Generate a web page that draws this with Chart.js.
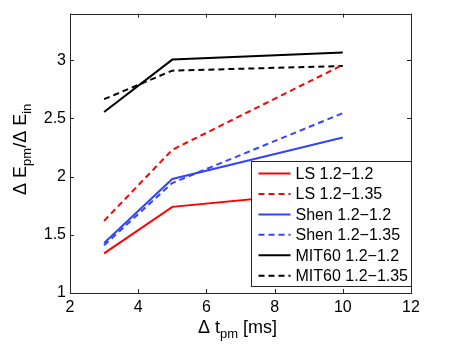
<!DOCTYPE html>
<html>
<head>
<meta charset="utf-8">
<script src="https://cdn.jsdelivr.net/npm/chart.js@4.4.1/dist/chart.umd.min.js"></script>
<style>
  html, body { margin: 0; padding: 0; background: #fff; }
  canvas { display: block; }
</style>
</head>
<body>
<canvas id="c" width="463" height="348"></canvas>
<script>
// ---- data ----
const dtPm = [3, 5, 10];
const ls12 = [1.34, 1.74, 1.88];
const ls135 = [1.62, 2.23, 2.96];
const shen12 = [1.43, 1.98, 2.335];
const shen135 = [1.41, 1.945, 2.545];
const mit12 = [2.555, 3.005, 3.065];
const mit135 = [2.665, 2.91, 2.95];

const seriesNames = ['LS 1.2\u22121.2', 'LS 1.2\u22121.35', 'Shen 1.2\u22121.2', 'Shen 1.2\u22121.35', 'MIT60 1.2\u22121.2', 'MIT60 1.2\u22121.35'];
const xTicks = [2, 4, 6, 8, 10, 12];
const xTickLabels = ['2', '4', '6', '8', '10', '12'];
const yTicks = [1, 1.5, 2, 2.5, 3];
const yTickLabels = ['1', '1.5', '2', '2.5', '3'];

const RED = '#ff0000', BLUE = '#3344ff', BLACK = '#000000';
const FONT = '"Liberation Sans", Arial, Helvetica, sans-serif';

function pts(ys) { return dtPm.map((x, i) => ({ x: x, y: ys[i] })); }
function ds(label, ys, color, dashed) {
  return {
    label: label, data: pts(ys), borderColor: color, backgroundColor: color,
    borderWidth: 2, borderDash: dashed ? [6, 4] : [], pointRadius: 0,
    fill: false, tension: 0
  };
}

const datasets = [
  ds(seriesNames[0], ls12, RED, false),
  ds(seriesNames[1], ls135, RED, true),
  ds(seriesNames[2], shen12, BLUE, false),
  ds(seriesNames[3], shen135, BLUE, true),
  ds(seriesNames[4], mit12, BLACK, false),
  ds(seriesNames[5], mit135, BLACK, true)
];

function drawRich(ctx, parts, x, y, mainSize, subSize, subShift) {
  // parts: [{t, sub}] ; draws left-aligned starting at x on baseline y, returns width
  let w = 0;
  parts.forEach(p => { ctx.font = (p.sub ? subSize : mainSize) + 'px ' + FONT; w += ctx.measureText(p.t).width; });
  let cx = x - w / 2;
  parts.forEach(p => {
    ctx.font = (p.sub ? subSize : mainSize) + 'px ' + FONT;
    ctx.fillText(p.t, cx, y + (p.sub ? subShift : 0));
    cx += ctx.measureText(p.t).width;
  });
}

const framePlugin = {
  id: 'frame',
  afterDatasetsDraw(chart) {
    const ctx = chart.ctx, a = chart.chartArea;
    const xs = chart.scales.x, ys = chart.scales.y;
    ctx.save();
    ctx.strokeStyle = '#262626';
    ctx.lineWidth = 1;
    ctx.setLineDash([]);
    ctx.strokeRect(Math.round(a.left) + 0.5, Math.round(a.top) + 0.5, Math.round(a.right - a.left), Math.round(a.bottom - a.top));
    const tl = 4;
    ctx.beginPath();
    xTicks.forEach(v => {
      const px = Math.round(xs.getPixelForValue(v)) + 0.5;
      ctx.moveTo(px, a.bottom); ctx.lineTo(px, a.bottom - tl);
      ctx.moveTo(px, a.top); ctx.lineTo(px, a.top + tl);
    });
    yTicks.forEach(v => {
      const py = Math.round(ys.getPixelForValue(v)) + 0.5;
      ctx.moveTo(a.left, py); ctx.lineTo(a.left + tl, py);
      ctx.moveTo(a.right, py); ctx.lineTo(a.right - tl, py);
    });
    ctx.stroke();

    // legend box (inside axes, lower right)
    const bw = 160, bh = 125;
    const bx = Math.round(a.right - bw) + 0.5, by = Math.round(a.bottom - 7 - bh) + 0.5;
    ctx.fillStyle = '#ffffff';
    ctx.fillRect(bx, by, bw, bh);
    ctx.strokeStyle = '#262626';
    ctx.strokeRect(bx, by, bw, bh);
    ctx.textBaseline = 'middle';
    ctx.textAlign = 'left';
    ctx.font = '16px ' + FONT;
    chart.data.datasets.forEach((d, i) => {
      const ry = by + 12 + i * 20.45;
      ctx.strokeStyle = d.borderColor;
      ctx.lineWidth = 2;
      ctx.setLineDash(d.borderDash);
      ctx.beginPath();
      ctx.moveTo(bx + 7, ry); ctx.lineTo(bx + 39, ry);
      ctx.stroke();
      ctx.setLineDash([]);
      ctx.fillStyle = '#000';
      ctx.fillText(d.label, bx + 44, ry + 1);
    });
    ctx.restore();
  },
  afterDraw(chart) {
    const ctx = chart.ctx, a = chart.chartArea;
    ctx.save();
    ctx.fillStyle = '#000';
    ctx.textBaseline = 'alphabetic';
    ctx.textAlign = 'left';
    // x title
    drawRich(ctx, [{ t: '\u0394 t' }, { t: 'pm', sub: true }, { t: ' [ms]' }], (a.left + a.right) / 2 - 3, 333, 18, 13, 5);
    // y title
    ctx.translate(26, (a.top + a.bottom) / 2 - 4);
    ctx.rotate(-Math.PI / 2);
    drawRich(ctx, [{ t: '\u0394 E' }, { t: 'pm', sub: true }, { t: '/\u0394 E' }, { t: 'in', sub: true }], 0, 0, 18, 13, 5);
    ctx.restore();
  }
};

new Chart(document.getElementById('c'), {
  type: 'line',
  data: { datasets: datasets },
  options: {
    responsive: false,
    animation: false,
    devicePixelRatio: 1,
    layout: { padding: { left: 0, right: 52, top: 10, bottom: 0 } },
    plugins: { legend: { display: false }, tooltip: { enabled: false } },
    scales: {
      x: {
        type: 'linear', min: 2, max: 12,
        afterBuildTicks: s => { s.ticks = xTicks.map(v => ({ value: v })); },
        afterFit: s => { s.height = 55; },
        grid: { display: false, drawTicks: false },
        border: { display: false },
        ticks: {
          padding: 5, color: '#000', font: { family: FONT, size: 16 },
          maxRotation: 0, autoSkip: false,
          callback: (v) => xTickLabels[xTicks.indexOf(v)]
        }
      },
      y: {
        type: 'linear', min: 1, max: 3.4,
        afterBuildTicks: s => { s.ticks = yTicks.map(v => ({ value: v })); },
        afterFit: s => { s.width = 70; },
        grid: { display: false, drawTicks: false },
        border: { display: false },
        ticks: {
          padding: 4, color: '#000', font: { family: FONT, size: 16 },
          autoSkip: false,
          callback: (v) => yTickLabels[yTicks.indexOf(v)]
        }
      }
    }
  },
  plugins: [framePlugin]
});
</script>
</body>
</html>
